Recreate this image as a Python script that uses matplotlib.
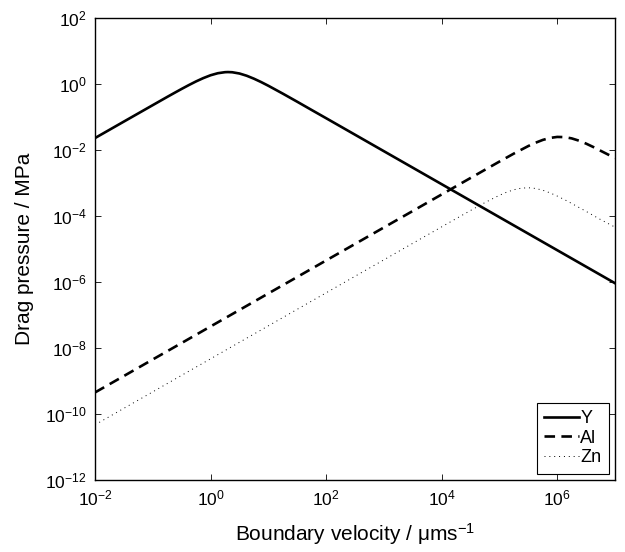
import numpy as np
import matplotlib
matplotlib.use("Agg")
import matplotlib.pyplot as plt

plt.rcParams['font.family'] = ['Liberation Sans', 'DejaVu Sans']
plt.rcParams['mathtext.fontset'] = 'custom'
plt.rcParams['mathtext.rm'] = 'Liberation Sans'
plt.rcParams['mathtext.it'] = 'Liberation Sans:italic'

# boundary velocity (log10 of um/s), denser around each maximum
logv_Y = [-2.0, -1.75, -1.5, -1.25, -1.0, -0.75, -0.625, -0.5, -0.375, -0.25, -0.125, 0.0,
          0.125, 0.25, 0.3, 0.375, 0.5, 0.625, 0.75, 0.875, 1.0, 1.25, 1.5, 1.75, 2.0,
          2.5, 3.0, 3.5, 4.0, 4.5, 5.0, 5.5, 6.0, 6.5, 7.0]
logv_Al = [-2.0, -1.5, -1.0, -0.5, 0.0, 0.5, 1.0, 1.5, 2.0, 2.5, 3.0, 3.5, 4.0, 4.5,
           4.75, 5.0, 5.25, 5.5, 5.625, 5.75, 5.875, 6.0, 6.125, 6.25, 6.375, 6.5, 6.625, 6.75, 7.0]
logv_Zn = [-2.0, -1.5, -1.0, -0.5, 0.0, 0.5, 1.0, 1.5, 2.0, 2.5, 3.0, 3.5, 4.0, 4.25, 4.5,
           4.75, 5.0, 5.125, 5.25, 5.375, 5.5, 5.625, 5.75, 5.875, 6.0, 6.125, 6.25, 6.5, 6.75, 7.0]

# drag pressure (MPa)
p_Y = [0.023, 0.0409, 0.0727, 0.129, 0.229, 0.406, 0.538, 0.710, 0.929, 1.20, 1.51, 1.84,
       2.12, 2.28, 2.30, 2.27, 2.08, 1.78, 1.45, 1.145, 0.885, 0.511, 0.290, 0.163, 0.0920,
       0.0291, 9.2e-3, 2.91e-3, 9.2e-4, 2.91e-4, 9.2e-5, 2.91e-5, 9.2e-6, 2.91e-6, 9.2e-7]
p_Al = [4.5e-10, 1.42e-9, 4.5e-9, 1.42e-8, 4.5e-8, 1.42e-7, 4.5e-7, 1.42e-6, 4.5e-6, 1.42e-5, 4.5e-5, 1.42e-4, 4.5e-4, 1.42e-3,
        2.52e-3, 4.46e-3, 7.8e-3, 1.32e-2, 1.66e-2, 2.02e-2, 2.32e-2, 2.49e-2, 2.46e-2, 2.25e-2, 1.92e-2, 1.56e-2, 1.23e-2, 9.5e-3, 5.7e-3]
p_Zn = [4.7e-11, 1.49e-10, 4.7e-10, 1.49e-9, 4.7e-9, 1.49e-8, 4.7e-8, 1.49e-7, 4.7e-7, 1.49e-6, 4.7e-6, 1.49e-5, 4.69e-5, 8.33e-5, 1.47e-4,
        2.56e-4, 4.25e-4, 5.27e-4, 6.25e-4, 6.96e-4, 7.19e-4, 6.84e-4, 6.04e-4, 5.03e-4, 4.02e-4, 3.14e-4, 2.40e-4, 1.38e-4, 7.8e-5, 4.6e-5]

x_ticks = [-2, 0, 2, 4, 6]
y_ticks = [-12, -10, -8, -6, -4, -2, 0, 2]

fig = plt.figure(figsize=(6.25, 5.52), dpi=100)
ax = fig.add_axes([0.152, 0.1304, 0.832, 0.837])

ax.loglog(10.0 ** np.array(logv_Y), p_Y, color='black', lw=1.9, ls='-', label='Y')
ax.loglog(10.0 ** np.array(logv_Al), p_Al, color='black', lw=1.9, ls=(0, (4, 2.4)), label='Al')
ax.loglog(10.0 ** np.array(logv_Zn), p_Zn, color='black', lw=0.7, ls=(0, (1, 4)), label='Zn')

ax.set_xlim(1e-2, 1e7)
ax.set_ylim(1e-12, 1e2)
ax.set_xticks([10.0 ** e for e in x_ticks])
ax.set_xticklabels([r'$\mathregular{10^{%d}}$' % e for e in x_ticks])
ax.set_yticks([10.0 ** e for e in y_ticks])
ax.set_yticklabels([r'$\mathregular{10^{%d}}$' % e for e in y_ticks])
ax.minorticks_off()
ax.tick_params(direction='in', top=True, right=True, length=4, width=0.6,
               labelsize=12.5, pad=6)
for s in ax.spines.values():
    s.set_linewidth(1.0)

ax.set_xlabel(r'Boundary velocity / $\mathregular{\mu ms^{-1}}$', fontsize=15, labelpad=9)
ax.set_ylabel('Drag pressure / MPa', fontsize=15, labelpad=8)

leg = ax.legend(loc='lower right', fontsize=13, handlelength=1.95, handletextpad=0.05,
                borderpad=0.4, labelspacing=0.15, fancybox=False, framealpha=1,
                borderaxespad=0.35)
leg.get_frame().set_edgecolor('black')
leg.get_frame().set_linewidth(0.8)

fig.savefig('out.png', dpi=100)
